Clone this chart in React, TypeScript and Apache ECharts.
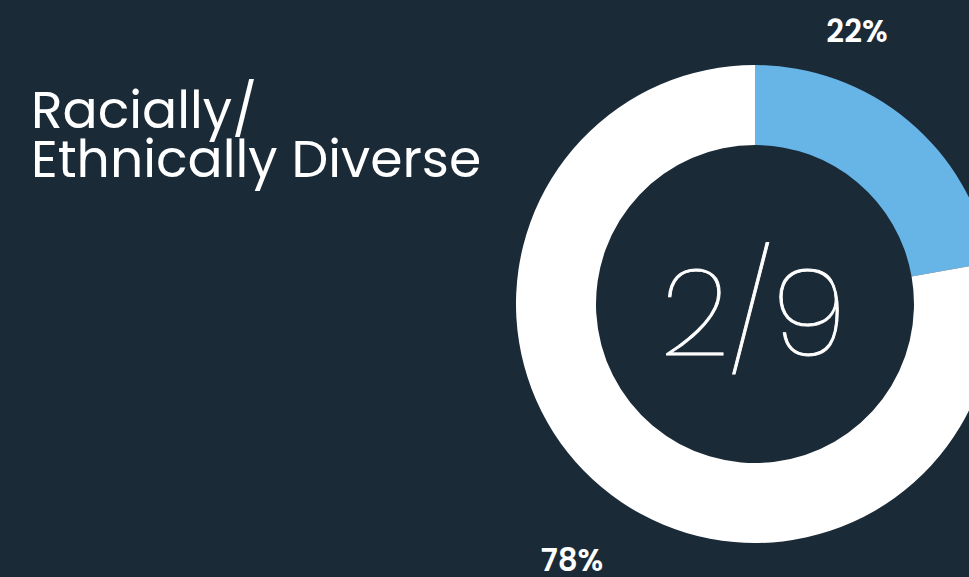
import React, { useEffect, useRef } from "react";
import * as echarts from "echarts";

const categories = ["Racially/Ethnically Diverse", "Other"];
const values = [2, 7];
const colors = ["#67b5e6", "#ffffff"];
const titleLines = ["Racially/", "Ethnically Diverse"];
const labelPositions = [
  [857, 31],
  [572, 560],
];

export default function App() {
  const ref = useRef<HTMLDivElement>(null);
  useEffect(() => {
    if (!ref.current) return;
    const chart = echarts.init(ref.current, null, { renderer: "svg" });
    const total = values.reduce((a, b) => a + b, 0);
    chart.setOption({
      animation: false,
      backgroundColor: "#1b2a37",
      title: {
        text: titleLines.join("\n"),
        left: 26,
        top: 80,
        textStyle: {
          color: "#ffffff",
          fontFamily: "Poppins, Roboto, sans-serif",
          fontWeight: 400,
          fontSize: 52,
          lineHeight: 49,
        },
      },
      graphic: [
        {
          type: "text",
          left: 660,
          top: 252,
          style: {
            text: `${values[0]}/${total}`,
            fill: "#ffffff",
            stroke: "#ffffff",
            lineWidth: 0.9,
            font: '200 121px Poppins, Roboto, sans-serif',
          },
        },
      ],
      series: [
        {
          type: "pie",
          center: [755, 304],
          radius: [159, 239],
          startAngle: 90,
          clockwise: true,
          silent: true,
          avoidLabelOverlap: false,
          data: categories.map((c, i) => ({
            name: c,
            value: values[i],
            itemStyle: { color: colors[i] },
          })),
          label: {
            show: true,
            position: "inside",
            formatter: (p: any) => `${Math.round(p.percent)}%`,
            color: "#ffffff",
            fontFamily: "Poppins, Roboto, sans-serif",
            fontWeight: 600,
            fontSize: 31,
            align: "center",
            verticalAlign: "middle",
          },
          labelLine: { show: false },
          labelLayout: (params: any) => ({
            x: labelPositions[params.dataIndex][0],
            y: labelPositions[params.dataIndex][1],
            align: "center",
            verticalAlign: "middle",
          }),
        },
      ],
    });
    return () => chart.dispose();
  }, []);
  return (
    <div
      ref={ref}
      style={{ position: "absolute", left: 0, top: 0, width: 969, height: 577 }}
    />
  );
}
